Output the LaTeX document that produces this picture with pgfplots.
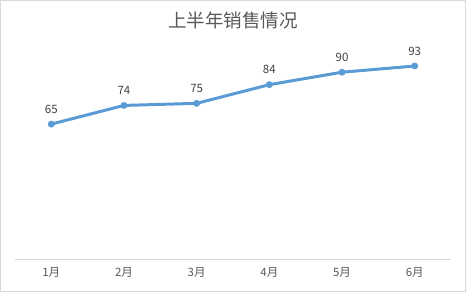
\documentclass[border=0pt]{standalone}
\usepackage{pgfplots}
\pgfplotsset{compat=1.18}
\usepackage{fontspec}
\setmainfont{Noto Sans CJK SC}
\definecolor{lineblue}{HTML}{5B9BD5}
\definecolor{txtgray}{HTML}{595959}
\definecolor{axgray}{HTML}{D9D9D9}
\begin{document}
\begin{tikzpicture}
\begin{axis}[
  name=ax,
  scale only axis, width=436pt, height=207.5pt,
  xmin=-0.5, xmax=5.5, ymin=0, ymax=100,
  axis x line*=bottom, axis y line=none,
  x axis line style={axgray, line width=0.8pt, -},
  xtick={0,1,2,3,4,5},
  xticklabels={1月,2月,3月,4月,5月,6月},
  major tick length=0pt,
  xticklabel style={txtgray, font=\fontsize{11.5}{13}\selectfont, yshift=-5pt},
  ytick=\empty,
  clip=false,
  nodes near coords,
  every node near coord/.append style={font=\fontsize{11.5}{13}\selectfont, text=black!75, yshift=7pt},
  /pgf/number format/assume math mode=true,
]
\addplot[lineblue, line width=3pt, mark=*, mark size=3.2pt, mark options={fill=lineblue, draw=lineblue, line width=0.4pt}]
  coordinates {(0,65) (1,74) (2,75) (3,84) (4,90) (5,93)};
\coordinate (sw) at (rel axis cs:0,0);
\coordinate (ne) at (rel axis cs:1,1);
\coordinate (tt) at (rel axis cs:0.5,1);
\end{axis}
\pgfresetboundingbox
\draw[axgray, line width=0.9pt] ([shift={(-14.5pt,-32.5pt)}]sw) rectangle ([shift={(14.5pt,51pt)}]ne);
\node[txtgray, font=\fontsize{18.5}{20}\selectfont] at ([yshift=31.5pt]tt) {上半年销售情况};
\end{tikzpicture}
\end{document}
